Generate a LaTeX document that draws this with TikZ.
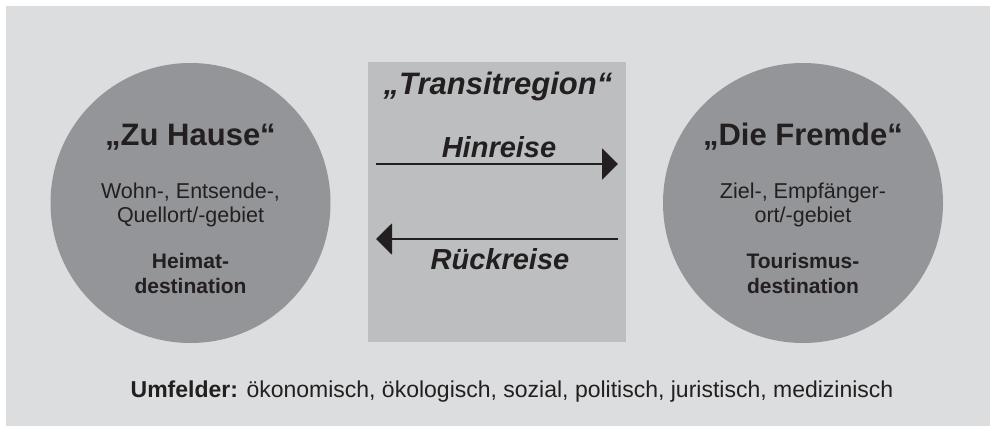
\documentclass[tikz,border=0pt]{standalone}
\usepackage{fontspec}
\setmainfont{Liberation Sans}
\usetikzlibrary{arrows.meta}
\definecolor{bggray}{HTML}{DCDDDE}
\definecolor{circgray}{HTML}{939598}
\definecolor{rectgray}{HTML}{BCBEC0}
\definecolor{ink}{HTML}{231F20}
\tikzset{
  disc/.style={circle, fill=circgray, inner sep=0pt, minimum size=280pt},
  transit/.style={rectangle, fill=rectgray, inner sep=0pt, minimum width=258pt, minimum height=280pt},
  title/.style={anchor=base, inner sep=0pt, text=ink, font=\fontsize{31}{34}\selectfont\bfseries},
  ititle/.style={anchor=base, inner sep=0pt, text=ink, font=\fontsize{31}{34}\selectfont\bfseries\itshape},
  trip/.style={anchor=base, inner sep=0pt, text=ink, font=\fontsize{29}{32}\selectfont\bfseries\itshape},
  plain/.style={anchor=base, inner sep=0pt, text=ink, font=\fontsize{21.5}{25}\selectfont},
  boldline/.style={anchor=base, inner sep=0pt, text=ink, font=\fontsize{21}{25}\selectfont\bfseries},
  foot/.style={anchor=base, inner sep=0pt, text=ink, font=\fontsize{23}{26}\selectfont},
  travel/.style={draw=ink, line width=2.2pt, -{Triangle[length=16pt,width=31pt]}}
}
\begin{document}
\begin{tikzpicture}[x=1pt,y=-1pt]
\useasboundingbox (0,0) rectangle (990,426);
\fill[bggray] (6,6) rectangle (990,426);
% circles and transit region
\node[disc] (home) at (190.5,203) {};
\node[disc] (away) at (803,203) {};
\node[transit] (region) at (497,202) {};
% left circle text
\node[title] (homeT) at (190.5,145) {„Zu Hause“};
\node[plain] (home1) at (190.5,198) {Wohn-, Entsende-,};
\node[plain] (home2) at (190.5,222) {Quellort/-gebiet};
\node[boldline] (home3) at (190.5,268) {Heimat-};
\node[boldline] (home4) at (190.5,293) {destination};
% right circle text
\node[title] (awayT) at (803,145) {„Die Fremde“};
\node[plain] (away1) at (803,198) {Ziel-, Empfänger-};
\node[plain] (away2) at (803,222) {ort/-gebiet};
\node[boldline] (away3) at (803,268) {Tourismus-};
\node[boldline] (away4) at (803,293) {destination};
% transit region text
\node[ititle] (regionT) at (498,94) {„Transitregion“};
\node[trip] (outT) at (499,157) {Hinreise};
\node[trip] (backT) at (500,269) {Rückreise};
% arrows
\coordinate (outA) at (376,164);
\coordinate (outB) at (618,164);
\coordinate (backA) at (618,239);
\coordinate (backB) at (376,239);
\draw[travel] (outA) -- (outB);
\draw[travel] (backA) -- (backB);
% footer
\node[foot] (env) at (512,397) {\textbf{Umfelder:} ökonomisch, ökologisch, sozial, politisch, juristisch, medizinisch};
\end{tikzpicture}
\end{document}
